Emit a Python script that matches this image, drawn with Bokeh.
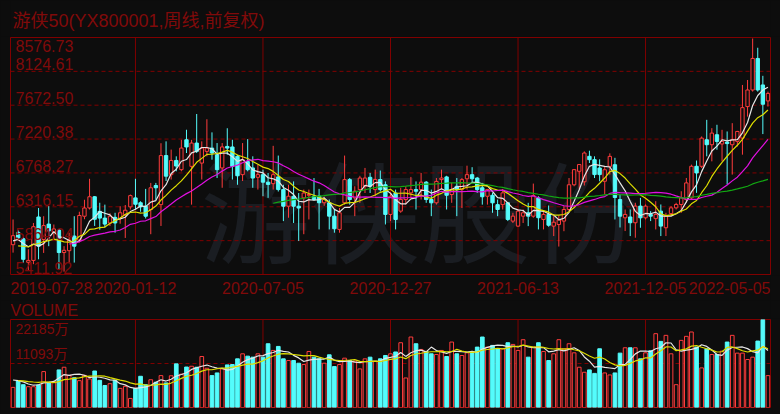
import numpy as np
from bokeh.plotting import figure
from bokeh.layouts import column
from bokeh.models import Range1d, Label, Span
from bokeh.embed import file_html
from bokeh.resources import INLINE

# ---- weekly bars of 游侠50 (front-adjusted), oldest first ----
opens = [5810, 5975, 5890, 5575, 5600, 6180, 5880, 6085, 5975, 6005,
         5705, 5730, 5925, 5870, 6190, 6300, 6450, 6255, 6165, 6100,
         6175, 6160, 6210, 6315, 6435, 6370, 6324, 6280, 6600, 6345,
         7000, 6745, 6935, 6812, 7211, 6856, 7167, 6900, 7056, 7100,
         7010, 6835, 7122, 7115, 6990, 6745, 6920, 6835, 6710, 6745,
         6645, 6625, 6715, 6546, 6324, 6457, 6324, 6435, 6470, 6457,
         6460, 6370, 6369, 6191, 6014, 6369, 6679, 6435, 6546, 6590,
         6710, 6546, 6680, 6610, 6214, 6500, 6258, 6413, 6502, 6546,
         6546, 6645, 6413, 6369, 6679, 6715, 6480, 6590, 6546, 6690,
         6745, 6700, 6570, 6457, 6470, 6345, 6345, 6369, 6125, 6058,
         6191, 6236, 6191, 6435, 6147, 6214, 6058, 6080, 6125, 6280,
         6610, 6790, 6650, 6990, 6945, 6834, 6657, 6856, 6878, 6413,
         6169, 6180, 6103, 6325, 6169, 6214, 6158, 6258, 6036, 6225,
         6302, 6347, 6413, 6435, 6857, 6857, 7211, 7145, 7278, 7155,
         7180, 7145, 7189, 7233, 7654, 7876, 8297, 7943, 7730]
highs = [6147, 6000, 5905, 5750, 6100, 6300, 6190, 6324, 6080, 6014,
         5790, 5970, 6190, 6250, 6410, 6690, 6460, 6370, 6345, 6230,
         6236, 6324, 6340, 6480, 6690, 6390, 6555, 6635, 6635, 7165,
         7190, 7080, 6990, 7210, 7345, 7210, 7555, 7190, 7485, 7310,
         7167, 7167, 7365, 7211, 7010, 7167, 7220, 6990, 6880, 6812,
         6768, 7130, 7000, 6610, 6610, 6655, 6500, 6546, 6546, 6700,
         6555, 6450, 6413, 6280, 6300, 7000, 6700, 6590, 6730, 6835,
         6768, 6812, 6800, 6655, 6502, 6546, 6570, 6590, 6715, 6655,
         6768, 6660, 6546, 6700, 6812, 6730, 6635, 6700, 6700, 6865,
         6845, 6715, 6635, 6555, 6502, 6413, 6555, 6380, 6236, 6280,
         6280, 6369, 6626, 6457, 6245, 6333, 6191, 6200, 6324, 6700,
         6820, 6880, 7056, 7065, 6990, 6950, 6857, 7030, 6970, 6480,
         6280, 6280, 6370, 6435, 6347, 6258, 6391, 6347, 6236, 6325,
         6370, 6524, 6701, 6879, 6934, 7255, 7477, 7366, 7411, 7344,
         7322, 7433, 7330, 7943, 8009, 8563, 8440, 8065, 7854]
lows = [5704, 5880, 5571, 5460, 5550, 5615, 5700, 5790, 5880, 5480,
        5450, 5570, 5571, 5840, 6150, 6280, 6060, 6010, 6040, 6060,
        5970, 6090, 5900, 6280, 6280, 6250, 6160, 5950, 6410, 6060,
        6660, 6680, 6790, 6790, 7034, 6345, 7034, 6680, 6990, 6945,
        6700, 6570, 7010, 6680, 6610, 6660, 6790, 6570, 6546, 6457,
        6435, 6546, 6520, 6125, 6170, 6100, 5860, 5950, 6147, 6400,
        6014, 6330, 6014, 5970, 5970, 6345, 6345, 6191, 6369, 6500,
        6500, 6457, 6520, 6080, 6125, 6014, 6236, 6345, 6435, 6280,
        6413, 6369, 6191, 6345, 6546, 6280, 6369, 6191, 6300, 6546,
        6635, 6502, 6345, 6345, 6236, 6191, 6280, 6125, 6100, 6050,
        6100, 6058, 6170, 6014, 6014, 6050, 5925, 5785, 5990, 6258,
        6590, 6546, 6600, 6901, 6700, 6657, 6480, 6746, 6147, 6040,
        5992, 5925, 5903, 6036, 6147, 6125, 6014, 5925, 5925, 6191,
        6280, 6236, 6370, 6413, 6502, 6834, 6990, 6923, 7078, 6923,
        6613, 6746, 7122, 7012, 7520, 7854, 7854, 7287, 7654]
closes = [5930, 5900, 5615, 5600, 6050, 5790, 6065, 5995, 6020, 5705,
          5735, 5875, 5790, 6200, 6300, 6450, 6150, 6165, 6085, 6190,
          6100, 6236, 6270, 6465, 6350, 6315, 6190, 6570, 6570, 7000,
          6725, 6935, 6860, 7100, 7115, 7167, 7056, 7100, 7100, 7034,
          6812, 7115, 7100, 6856, 6730, 6945, 6812, 6700, 6745, 6645,
          6615, 6745, 6546, 6324, 6457, 6324, 6300, 6500, 6480, 6413,
          6370, 6413, 6191, 6023, 6236, 6679, 6413, 6524, 6700, 6700,
          6590, 6680, 6546, 6214, 6457, 6147, 6413, 6546, 6546, 6524,
          6645, 6413, 6369, 6655, 6700, 6470, 6546, 6546, 6679, 6745,
          6690, 6546, 6450, 6546, 6369, 6280, 6502, 6147, 6191, 6258,
          6236, 6191, 6466, 6170, 6214, 6070, 6110, 6140, 6280, 6610,
          6812, 6880, 7034, 6945, 6746, 6746, 6811, 6989, 6440, 6191,
          6214, 6103, 6325, 6169, 6325, 6191, 6214, 6058, 6191, 6302,
          6347, 6435, 6635, 6857, 6768, 7233, 7145, 7300, 7189, 7189,
          7160, 7210, 7322, 7640, 7876, 8297, 7876, 7686, 7830]
# weekly volume, in 万 shares
volumes = [5076, 6768, 5753, 5245, 5245, 5700, 9052, 6345, 6514, 9475,
           10152, 8100, 7500, 6768, 8100, 7200, 9200, 6850, 5550, 6000,
           6850, 4822, 5330, 2284, 4822, 7868, 5750, 7000, 6350, 8037,
           6200, 8000, 10998, 8400, 10200, 10400, 10150, 12859, 9898, 8037,
           8714, 9729, 10744, 10829, 12267, 13536, 12944, 12690, 13536, 12690,
           16074, 14382, 15397, 12267, 11844, 11844, 11167, 10829, 14128, 12690,
           12267, 11167, 13282, 10321, 10829, 12436, 11844, 11675, 9729, 12267,
           12690, 11675, 12267, 13113, 13536, 14000, 16328, 7445, 17766, 16074,
           14636, 14128, 13536, 13367, 14382, 12859, 16497, 13536, 13113, 13790,
           13790, 15228, 17766, 15228, 15651, 14805, 14805, 16328, 15905, 14382,
           17089, 12690, 15228, 16328, 14128, 11844, 13536, 17089, 14805, 16074,
           13790, 10152, 8883, 9475, 8600, 14805, 8714, 8206, 8714, 13705,
           15059, 15059, 15059, 12267, 13790, 14297, 18612, 16666, 18189, 13536,
           5753, 16920, 17935, 19035, 15228, 9983, 14805, 13367, 13367, 14213,
           16497, 18189, 13705, 13705, 12098, 12690, 16751, 22185, 8037]
# the eight weeks before the first bar shown; they only feed the moving averages
prior_closes = [5650, 5700, 5720, 5660, 5800, 5880, 5820, 5870]
prior_volumes = [6200, 7100, 6400, 6527, 7600, 7300, 7900, 6809]

price_ticks = [5411.92, 5864.04, 6316.15, 6768.27, 7220.38, 7672.50, 8124.61, 8576.73]
date_labels = ["2019-07-28", "2020-01-12", "2020-07-05", "2020-12-27",
               "2021-06-13", "2021-12-05", "2022-05-05"]
date_index = [0, 24, 49, 74, 99, 124, 148]
vol_ticks = [11093, 22185]
vol_tick_labels = ["11093万", "22185万"]

# ---- colours / fonts ----
BG = "#0d0d0d"
FRAME = "#800000"
TXT = "#800a0a"
UP = "#ff3c3c"
DOWN = "#54fcfc"
MA_COLORS = {5: "#e6e6e6", 10: "#dede00", 20: "#e010e0", 60: "#12a812"}
FONT = "Liberation Sans, Noto Sans CJK SC"
W = 780
SIDE = 10


def sma(values, n, pad):
    full = np.asarray(list(pad) + list(values), dtype=float)
    out = np.full(len(full), np.nan)
    csum = np.concatenate([[0.0], np.cumsum(full)])
    out[n - 1:] = (csum[n:] - csum[:-n]) / n
    return out[len(pad):]


def strip(height, x_range=None):
    """A frameless band that only carries a row of text between the panels."""
    return figure(width=W, height=height,
                  x_range=x_range if x_range is not None else Range1d(0, 1),
                  y_range=Range1d(0, 1), x_axis_type=None, y_axis_type=None,
                  toolbar_location=None, output_backend="svg",
                  min_border_left=SIDE, min_border_right=SIDE,
                  min_border_top=0, min_border_bottom=0,
                  background_fill_color=BG, border_fill_color=BG,
                  outline_line_color=None)


def panel(height, x_range, y_range, top, bottom):
    return figure(width=W, height=height, x_range=x_range, y_range=y_range,
                  x_axis_type=None, y_axis_type=None, toolbar_location=None,
                  output_backend="svg", min_border_left=SIDE, min_border_right=SIDE,
                  min_border_top=top, min_border_bottom=bottom,
                  background_fill_color=BG, border_fill_color=BG,
                  outline_line_color=FRAME, outline_line_width=1)


n = len(closes)
x = np.arange(n)
o = np.asarray(opens, float)
c = np.asarray(closes, float)
h = np.asarray(highs, float)
l = np.asarray(lows, float)
v = np.asarray(volumes, float)
up = c >= o
dn = ~up
body_top = np.maximum(o, c)
body_bot = np.minimum(o, c)

xr = Range1d(-0.5, n - 0.5)

# ---------------- title row ----------------
head = strip(36)
head.add_layout(Label(x=2, y=16, x_units="screen", y_units="screen",
                      text="游侠50(YX800001,周线,前复权)", text_font=FONT,
                      text_font_size="18px", text_color=TXT, text_baseline="middle"))

# ---------------- price panel ----------------
p = panel(239, xr, Range1d(price_ticks[0], price_ticks[-1]), 1, 1)

p.add_layout(Label(x=410, y=68, x_units="screen", y_units="screen", text="游侠股份",
                   text_font="Noto Sans CJK SC", text_font_size="110px",
                   text_color="#1a1d22", text_align="center", text_baseline="middle",
                   level="image"))

for val in price_ticks[1:-1]:
    p.add_layout(Span(location=val, dimension="width", line_color=FRAME,
                      line_dash="4 3", line_width=1, level="underlay"))
for i in date_index[1:-1]:
    p.add_layout(Span(location=i, dimension="height", line_color=FRAME,
                      line_width=1, level="underlay"))

# wicks
p.segment(x[dn], h[dn], x[dn], l[dn], line_color=DOWN, line_width=1)
p.segment(x[up], h[up], x[up], c[up], line_color=UP, line_width=1)
p.segment(x[up], o[up], x[up], l[up], line_color=UP, line_width=1)
# bodies: rising weeks hollow red, falling weeks solid cyan
p.vbar(x=x[dn], top=body_top[dn], bottom=body_bot[dn], width=0.66,
       fill_color=DOWN, line_color=DOWN, line_width=1)
p.vbar(x=x[up], top=body_top[up], bottom=body_bot[up], width=0.66,
       fill_color=BG, line_color=UP, line_width=1)

for win, col in MA_COLORS.items():
    p.line(x, sma(closes, win, prior_closes), line_color=col, line_width=1.2)

for k, val in enumerate(price_ticks):
    top = k == len(price_ticks) - 1
    p.add_layout(Label(x=5, y=val, x_units="screen", text=f"{val:.2f}",
                       text_font=FONT, text_font_size="16px", text_color=TXT,
                       text_baseline="top" if top else "bottom",
                       y_offset=-2 if top else 1))

# ---------------- date row ----------------
dates = strip(25, x_range=xr)
for k, (i, lab) in enumerate(zip(date_index, date_labels)):
    if k == 0:
        kw = dict(x=0, x_units="screen", text_align="left")
    elif k == len(date_labels) - 1:
        kw = dict(x=W - 2 * SIDE, x_units="screen", text_align="right")
    else:
        kw = dict(x=i, text_align="center")
    dates.add_layout(Label(y=13, y_units="screen", text=lab, text_font=FONT,
                           text_font_size="16px", text_color=TXT,
                           text_baseline="middle", **kw))

# ---------------- "VOLUME" row ----------------
vhead = strip(18)
vhead.add_layout(Label(x=0, y=8, x_units="screen", y_units="screen", text="VOLUME",
                       text_font=FONT, text_font_size="16px", text_color=TXT,
                       text_baseline="middle"))

# ---------------- volume panel ----------------
pv = panel(96, xr, Range1d(0, vol_ticks[-1]), 1, 7)

pv.add_layout(Span(location=vol_ticks[0], dimension="width", line_color=FRAME,
                   line_dash="4 3", line_width=1, level="underlay"))
for i in date_index[1:-1]:
    pv.add_layout(Span(location=i, dimension="height", line_color=FRAME,
                       line_width=1, level="underlay"))

pv.vbar(x=x[dn], top=v[dn], bottom=0, width=0.72, fill_color=DOWN,
        line_color=DOWN, line_width=1)
pv.vbar(x=x[up], top=v[up], bottom=0, width=0.72, fill_color=BG,
        line_color=UP, line_width=1)

pv.line(x, sma(volumes, 5, prior_volumes), line_color=MA_COLORS[5], line_width=1.2)
pv.line(x, sma(volumes, 10, prior_volumes), line_color=MA_COLORS[10], line_width=1.2)

pv.add_layout(Label(x=5, y=vol_ticks[1], x_units="screen", text=vol_tick_labels[1],
                    text_font=FONT, text_font_size="14px", text_color=TXT,
                    text_baseline="top", y_offset=-1))
pv.add_layout(Label(x=5, y=vol_ticks[0], x_units="screen", text=vol_tick_labels[0],
                    text_font=FONT, text_font_size="14px", text_color=TXT,
                    text_baseline="bottom", y_offset=1))

layout = column(head, p, dates, vhead, pv, spacing=0,
                styles={"background-color": BG})
open("out.html", "w").write(file_html(layout, INLINE))
